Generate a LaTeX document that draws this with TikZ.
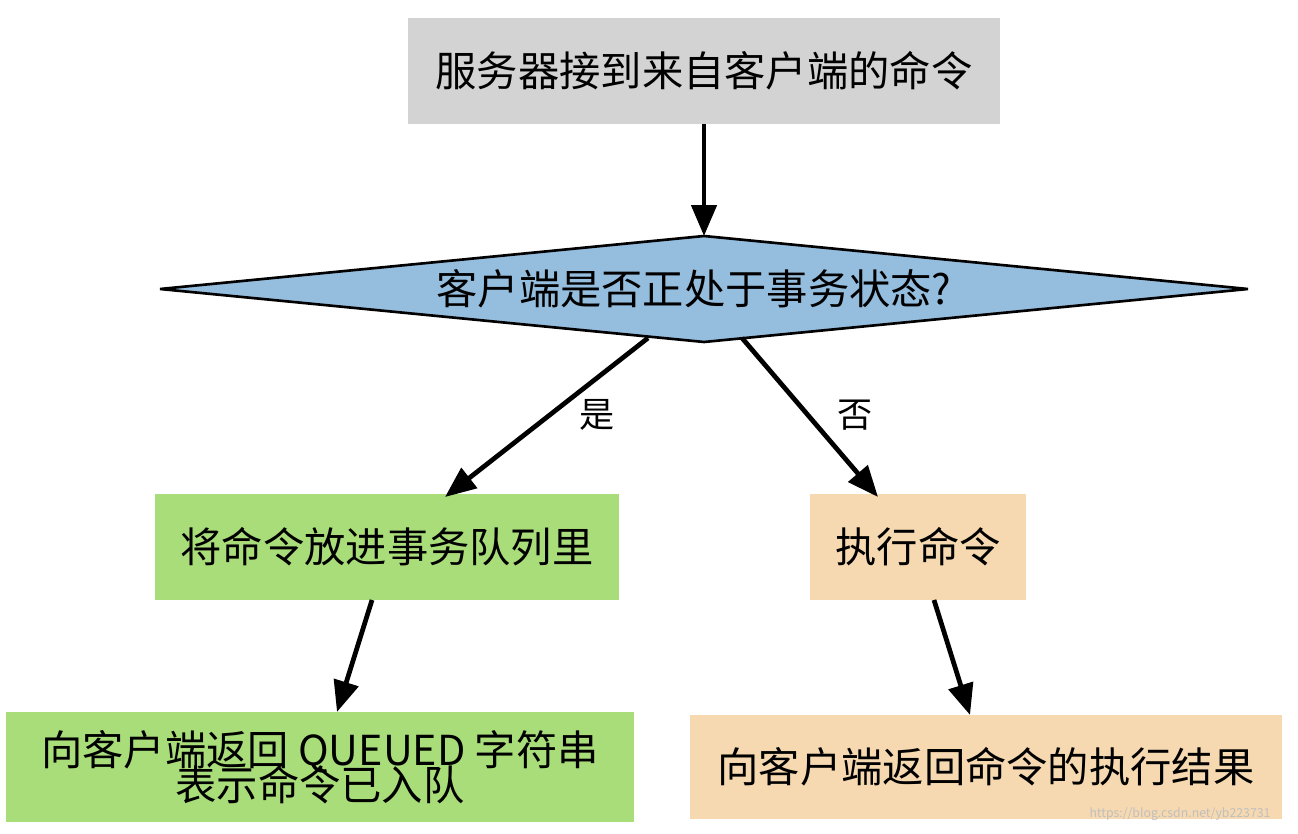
\documentclass[tikz,border=0pt]{standalone}
\usepackage{fontspec}
\setmainfont{Noto Sans CJK SC}
\usetikzlibrary{arrows.meta,calc}
\definecolor{gbox}{HTML}{D3D3D3}
\definecolor{bdia}{HTML}{94BDDE}
\definecolor{grn}{HTML}{A9DD7A}
\definecolor{org}{HTML}{F6D9B0}
\begin{document}
\begin{tikzpicture}[x=0.02cm,y=-0.02cm,
  box/.style={draw=none,minimum height=2.12cm,inner sep=0pt,font=\fontsize{23.5pt}{26pt}\selectfont,align=center},
  arr/.style={line width=2.7pt,-{Triangle[length=0.62cm,width=0.5cm]}},
  lab/.style={font=\fontsize{20pt}{22pt}\selectfont}]
\useasboundingbox (0,0) rectangle (1298,834);
\node[box,fill=gbox,minimum width=11.84cm] (top) at (704,71) {服务器接到来自客户端的命令};
\coordinate (dt) at (704,236); \coordinate (db) at (704,342);
\coordinate (dl) at (160,289); \coordinate (dr) at (1248,289);
\filldraw[fill=bdia,draw=black,line width=1.5pt] (dt) -- (dr) -- (db) -- (dl) -- cycle;
\node[box,minimum height=1cm] (dia) at (694,289) {客户端是否正处于事务状态?};
\node[box,fill=grn,minimum width=9.3cm] (q) at (387,547) {将命令放进事务队列里};
\node[box,fill=org,minimum width=4.32cm] (ex) at (918,547) {执行命令};
\node[box,fill=grn,minimum width=12.56cm,minimum height=2.2cm] (ret1) at (320,767) {向客户端返回 QUEUED 字符串\\[-6pt]表示命令已入队};
\node[box,fill=org,minimum width=11.84cm,minimum height=2.1cm] (ret2) at (986,767) {向客户端返回命令的执行结果};
\coordinate (a1) at (648,338); \coordinate (a2) at (742,338);
\coordinate (qs) at (372,600); \coordinate (es) at (934,600);
\draw[arr] (top.south) -- (dt);
\draw[arr] (a1) -- (445,497);
\draw[arr] (a2) -- (878,497);
\draw[arr] (qs) -- (337,712);
\draw[arr] (es) -- (970,715);
\node[lab] (yes) at (597,415) {是};
\node[lab] (no) at (855,415) {否};
\node[font=\fontsize{7pt}{8pt}\selectfont,text=gray!50] (wm) at (1180,814) {https://blog.csdn.net/yb223731};
\end{tikzpicture}
\end{document}
